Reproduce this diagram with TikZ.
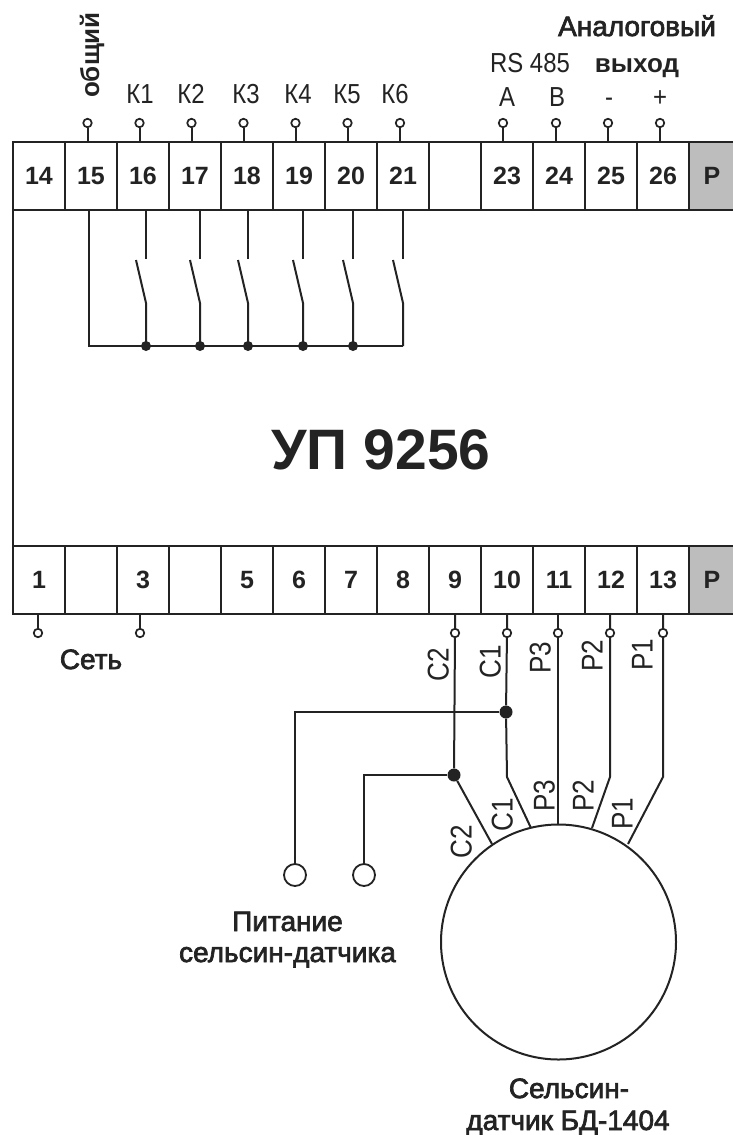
\documentclass[tikz,border=0pt]{standalone}
\usepackage{fontspec}
\setmainfont{Liberation Sans}
\newfontfamily\capfont[FakeBold=2.5]{Liberation Sans}
\newfontfamily\narrowfont[FakeStretch=0.87]{Liberation Sans}
\definecolor{ink}{HTML}{232323}
\definecolor{pgray}{HTML}{BDBDBD}
\tikzset{
  x=1pt,y=-1pt,
  wire/.style={draw=ink,line width=2pt},
  cell/.style={draw=ink,line width=2pt,minimum width=52pt,minimum height=68pt,inner sep=0pt,text=ink,text height=17.5pt,text depth=0pt,font=\fontsize{25}{25}\selectfont\bfseries},
  pcell/.style={cell,fill=pgray,minimum width=46pt},
  term/.style={circle,draw=ink,fill=white,line width=1.7pt,minimum size=8.5pt,inner sep=0pt},
  lamp/.style={circle,draw=ink,fill=white,line width=1.8pt,minimum size=22pt,inner sep=0pt},
  jdot/.style={circle,fill=ink,minimum size=#1,inner sep=0pt},
  jdot/.default=10pt,
  lbl/.style={text=ink,inner sep=0pt,text height=20pt,text depth=0pt,font=\fontsize{27.5}{27.5}\selectfont\narrowfont},
  capt/.style={text=ink,inner sep=0pt,anchor=base,font=\fontsize{28}{28}\selectfont\capfont},
  capb/.style={text=ink,inner sep=0pt,anchor=base,font=\fontsize{26}{26}\selectfont\bfseries},
  vlbl/.style={text=ink,inner sep=0pt,text height=21pt,text depth=0pt,rotate=90,font=\fontsize{30}{30}\selectfont\narrowfont}
}
\begin{document}
\begin{tikzpicture}
\useasboundingbox[fill=white] (0,0) rectangle (732,1135);
% body
\draw[wire] (13,209) -- (13,546);
% top terminal strip
\foreach \n/\cx in {14/39,15/91,16/143,17/195,18/247,19/299,20/351,21/403,22/455,23/507,24/559,25/611,26/663}{
  \ifnum\n=22 \node[cell] (t\n) at (\cx,175.5) {};
  \else \node[cell] (t\n) at (\cx,175.5) {\n};\fi
}
\node[pcell] (tp) at (712,175.5) {P};
% bottom terminal strip
\foreach \n/\cx in {1/39,2/91,3/143,4/195,5/247,6/299,7/351,8/403,9/455,10/507,11/559,12/611,13/663}{
  \ifnum\n=2 \node[cell] (b\n) at (\cx,580) {};
  \else\ifnum\n=4 \node[cell] (b\n) at (\cx,580) {};
  \else \node[cell] (b\n) at (\cx,580) {\n};\fi\fi
}
\node[pcell] (bp) at (712,580) {P};
% top terminals
\foreach \n/\px in {15/87.5,16/139.5,17/191.5,18/243.5,19/295.5,20/347.5,21/400,23/503,24/556,25/608,26/660}{
  \node[term] (pt\n) at (\px,123) {};
  \draw[wire] (pt\n) -- (\px,141);
}
% bottom terminals
\foreach \n/\px in {1/38,3/140}{
  \node[term] (pb\n) at (\px,633) {};
  \draw[wire] (\px,614) -- (pb\n);
}
% contacts
\coordinate (busL) at (89,346);
\coordinate (busR) at (403,346);
\draw[wire] (89,209) -- (busL) -- (busR);
\foreach \k/\sx/\bx/\dotted in {1/146/136/1,2/200/190/1,3/248/238/1,4/303/293/1,5/353/343/1,6/403/393/0}{
  \draw[wire] (\sx,209) -- (\sx,259);
  \draw[wire] (\bx,260) -- (\sx,303) -- (\sx,346);
  \ifnum\dotted=1 \node[jdot] (j\k) at (\sx,346) {};\fi
}
% title
\node[text=ink,inner sep=0pt,font=\fontsize{57}{57}\selectfont\bfseries] (title) at (381,450) {УП 9256};
% top labels
\node[capb,rotate=90] (gen) at (99,55) {общий};
\foreach \k/\x in {1/140,2/191,3/246,4/298,5/347,6/395}{
  \node[lbl] (k\k) at (\x,93) {К\k};
}
\node[lbl] (rs) at (530,62) {RS 485};
\node[lbl] (la) at (507,96) {A};
\node[lbl] (lb) at (557,96) {B};
\node[lbl] (lm) at (609,96) {-};
\node[lbl] (lp) at (660,96) {+};
\node[capt] (ao) at (637,36) {Аналоговый};
\node[capb] (vy) at (637,72) {выход};
\node[capt] (set) at (91,669) {Сеть};
% sensor
\node[circle,draw=ink,line width=2pt,minimum size=235pt,inner sep=0pt] (sens) at (558.5,942) {};
\foreach \n/\px in {9/455,10/507,11/558,12/610,13/663}{
  \node[term] (pb\n) at (\px,633) {};
}
\node[jdot=13pt] (j10) at (506,712) {};
\node[jdot=13pt] (j9) at (454,775) {};
\node[lamp] (l1) at (295,875) {};
\node[lamp] (l2) at (364,875) {};
\draw[wire] (455,614) -- (pb9) -- (j9) -- (492,844);
\draw[wire] (507,614) -- (pb10) -- (j10) -- (507,777) -- (531,828);
\draw[wire] (558,614) -- (pb11) -- (558,824);
\draw[wire] (610,614) -- (pb12) -- (610,777) -- (592,828);
\draw[wire] (663,614) -- (pb13) -- (663,777) -- (628,844);
\draw[wire] (j10) -- (295,712) -- (l1);
\draw[wire] (j9) -- (364,775) -- (l2);
% wire labels
\foreach \t/\x/\y in {С2/438/665,С1/490/662,Р3/540/658,Р2/592/656,Р1/642/655,С2/461/842,С1/502/815,Р3/544/796,Р2/583/796,Р1/622/814}{
  \node[vlbl] at (\x,\y) {\t};
}
\node[capt] (pit1) at (287.5,931) {Питание};
\node[capt] (pit2) at (287.5,962) {сельсин-датчика};
\node[capt] (sen1) at (569,1098) {Сельсин-};
\node[capt] (sen2) at (568,1130) {датчик БД-1404};
\end{tikzpicture}
\end{document}
